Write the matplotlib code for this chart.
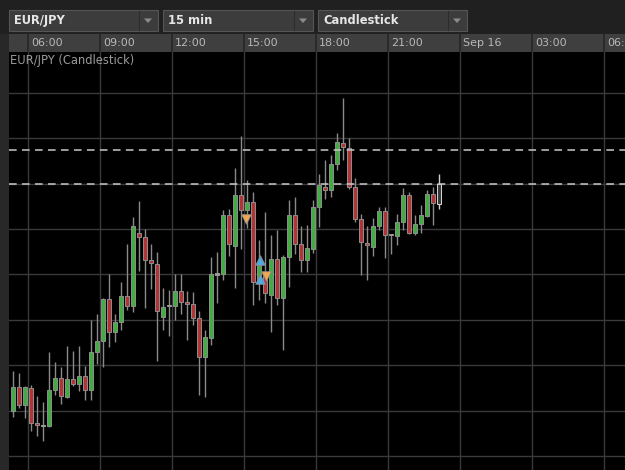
import matplotlib
matplotlib.use("Agg")
import matplotlib.pyplot as plt
from matplotlib.patches import Rectangle, Polygon

# ---------------- data ----------------
opens = [130.100, 130.153, 130.112, 130.150, 130.073, 130.067, 130.065, 130.145, 130.171, 130.130,
         130.169, 130.159, 130.176, 130.145, 130.228, 130.253, 130.345, 130.274, 130.295, 130.353,
         130.331, 130.492, 130.482, 130.432, 130.424, 130.306, 130.331, 130.331, 130.364, 130.339,
         130.335, 130.303, 130.219, 130.261, 130.401, 130.400, 130.530, 130.463, 130.575, 130.542,
         130.560, 130.384, 130.401, 130.355, 130.435, 130.347, 130.439, 130.531, 130.467, 130.432,
         130.456, 130.548, 130.593, 130.587, 130.643, 130.690, 130.678, 130.593, 130.521, 130.470,
         130.460, 130.506, 130.540, 130.487, 130.484, 130.516, 130.575, 130.491, 130.510, 130.528,
         130.578, 130.555]
highs = [130.188, 130.183, 130.154, 130.156, 130.132, 130.119, 130.228, 130.207, 130.196, 130.242,
         130.232, 130.243, 130.198, 130.300, 130.312, 130.348, 130.401, 130.312, 130.384, 130.466,
         130.527, 130.562, 130.499, 130.466, 130.450, 130.370, 130.365, 130.401, 130.400, 130.363,
         130.362, 130.319, 130.278, 130.439, 130.449, 130.542, 130.544, 130.634, 130.704, 130.608,
         130.582, 130.476, 130.538, 130.487, 130.498, 130.443, 130.564, 130.570, 130.506, 130.509,
         130.564, 130.621, 130.651, 130.663, 130.711, 130.788, 130.700, 130.612, 130.532, 130.507,
         130.524, 130.549, 130.549, 130.489, 130.532, 130.590, 130.582, 130.531, 130.553, 130.586,
         130.593, 130.622]
lows = [130.086, 130.106, 130.084, 130.054, 130.044, 130.033, 130.063, 130.134, 130.115, 130.128,
        130.155, 130.143, 130.123, 130.123, 130.202, 130.197, 130.239, 130.252, 130.278, 130.322,
        130.318, 130.407, 130.325, 130.368, 130.209, 130.278, 130.264, 130.300, 130.313, 130.256,
        130.289, 130.134, 130.130, 130.244, 130.337, 130.388, 130.441, 130.370, 130.457, 130.502,
        130.333, 130.344, 130.337, 130.273, 130.333, 130.233, 130.372, 130.445, 130.405, 130.406,
        130.447, 130.505, 130.566, 130.570, 130.630, 130.652, 130.588, 130.516, 130.399, 130.388,
        130.441, 130.498, 130.437, 130.445, 130.465, 130.498, 130.489, 130.487, 130.491, 130.526,
        130.509, 130.544]
closes = [130.153, 130.112, 130.152, 130.073, 130.068, 130.067, 130.145, 130.171, 130.132, 130.170,
          130.159, 130.176, 130.145, 130.230, 130.254, 130.345, 130.274, 130.295, 130.353, 130.331,
          130.507, 130.482, 130.432, 130.425, 130.319, 130.329, 130.331, 130.364, 130.339, 130.335,
          130.303, 130.219, 130.263, 130.400, 130.401, 130.531, 130.467, 130.575, 130.542, 130.560,
          130.384, 130.421, 130.358, 130.435, 130.347, 130.439, 130.531, 130.467, 130.432, 130.459,
          130.548, 130.597, 130.587, 130.643, 130.692, 130.681, 130.593, 130.521, 130.471, 130.465,
          130.507, 130.540, 130.487, 130.487, 130.516, 130.575, 130.491, 130.511, 130.531, 130.578,
          130.557, 130.600]

time_labels = ["06:00", "09:00", "12:00", "15:00", "18:00", "21:00", "Sep 16", "03:00", "06:00"]
level_lines = [130.674, 130.600]
sell_idx = [38.9, 42.2]
sell_px = [130.522, 130.396]
buy_idx = [41.2, 41.2]
buy_px = [130.432, 130.390]
symbol = "EUR/JPY"
interval = "15 min"
chart_type = "Candlestick"

# ---------------- figure ----------------
W, H = 625, 470
fig = plt.figure(figsize=(W / 100, H / 100), dpi=100, facecolor="#202020")

chrome = fig.add_axes([0, 0, 1, 1])
chrome.set_xlim(0, W)
chrome.set_ylim(H, 0)
chrome.axis("off")
chrome.set_facecolor("#202020")

# dropdown boxes
for (x0, x1, txt) in [(9, 158, symbol), (163, 313, interval), (318, 467, chart_type)]:
    chrome.add_patch(Rectangle((x0, 10), x1 - x0, 21, fc="#3c3c3c", ec="#555555", lw=0.8))
    chrome.plot([x1 - 19, x1 - 19], [11, 30], color="#2c2c2c", lw=0.8)
    ax_c = x1 - 10
    chrome.add_patch(Polygon([[ax_c - 4, 18.5], [ax_c + 4, 18.5], [ax_c, 23]], closed=True,
                             fc="#8c8c8c", ec="none"))
    chrome.text(x0 + 5, 20.8, txt, color="#e6e6e6", fontsize=8.3, fontweight="bold",
                family="DejaVu Sans", va="center", ha="left")

# left strip and time axis strip
chrome.add_patch(Rectangle((0, 34), 9, H - 34, fc="#282828", ec="none"))
chrome.add_patch(Rectangle((9, 34), W - 9, 18, fc="#3f3f3f", ec="none"))

plot_left, plot_top = 9, 52
x_first = -0.62                      # index at left edge
x_last = x_first + (W - plot_left) / 6.0
grid0 = 2.55
px_per_idx = 6.0

def idx_to_px(i):
    return plot_left + (i - x_first) * px_per_idx

for k, lab in enumerate(time_labels):
    gx = idx_to_px(grid0 + 12 * k)
    chrome.plot([gx, gx], [34, 52], color="#262626", lw=1.2)
    chrome.text(gx + 3, 43.5, lab, color="#b8b8b8", fontsize=8, va="center", ha="left",
                family="DejaVu Sans")

# ---------------- price axes ----------------
ax = fig.add_axes([plot_left / W, 0, (W - plot_left) / W, (H - plot_top) / H])
ax.set_facecolor("#000000")
ax.set_xlim(x_first, x_last)
y_top = 130.0 + (456 - plot_top) / 454.0
y_bot = 130.0 - (H - 456) / 454.0
ax.set_ylim(y_bot, y_top)
for s in ax.spines.values():
    s.set_visible(False)
ax.set_xticks([])
ax.set_yticks([])

for k in range(len(time_labels)):
    ax.axvline(grid0 + 12 * k, color="#3a3a3a", lw=1.0, zorder=1)
for k in range(0, 9):
    ax.axhline(130.0 + 0.1 * k, color="#3a3a3a", lw=1.0, zorder=1)

green, red = "#3fae3f", "#b33434"
n = len(opens)
for i in range(n):
    o, h, l, c = opens[i], highs[i], lows[i], closes[i]
    last = (i == n - 1)
    wick_col = "#cfcfcf" if last else "#8a8a8a"
    ax.plot([i, i], [l, h], color=wick_col, lw=1.0, zorder=3, solid_capstyle="butt")
    lo, hi = min(o, c), max(o, c)
    if last:
        fc, ec = "#3a3a3a", "#d8d8d8"
    elif c > o:
        fc, ec = green, "#8e8e8e"
    elif c < o:
        fc, ec = red, "#8e8e8e"
    else:
        fc, ec = "#9a9a9a", "#9a9a9a"
    hgt = max(hi - lo, 0.0025)
    ax.add_patch(Rectangle((i - 0.36, lo if hi - lo > 0.0025 else lo - 0.00125), 0.72, hgt,
                           fc=fc, ec=ec, lw=0.7, zorder=4))

for lv in level_lines:
    ax.axhline(lv, color="#c8c8c8", lw=1.1, ls=(0, (5, 3.5)), zorder=5)

ax.scatter(sell_idx, sell_px, marker="v", s=48, c="#f2a850", edgecolors="#8a8a8a",
           linewidths=0.6, zorder=6)
ax.scatter(buy_idx, buy_px, marker="^", s=48, c="#4fa9e3", edgecolors="#8a8a8a",
           linewidths=0.6, zorder=6)

fig.text(10 / W, 1 - 60.5 / H, f"{symbol} ({chart_type})", color="#9a9a9a", fontsize=8.3,
         va="center", ha="left", family="DejaVu Sans")

fig.savefig("out.png", dpi=100, facecolor=fig.get_facecolor())
